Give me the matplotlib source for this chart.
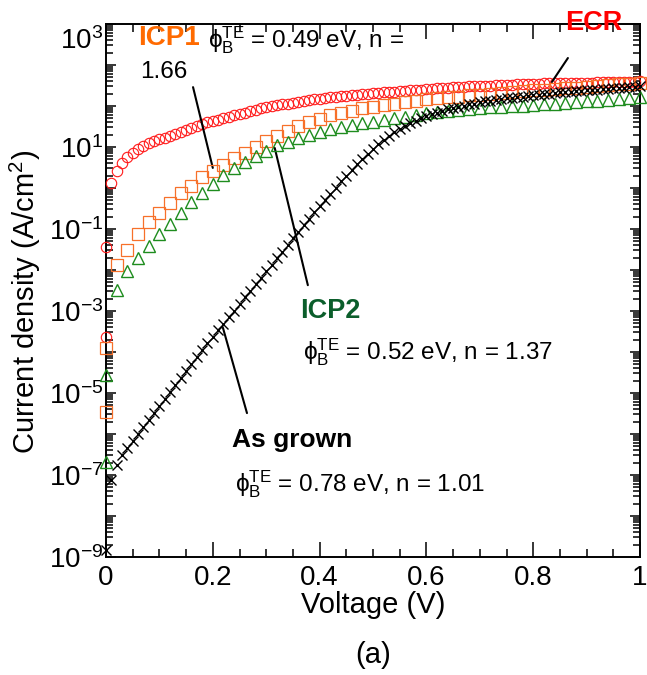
import numpy as np
import matplotlib
matplotlib.use('Agg')
import matplotlib.pyplot as plt
from matplotlib.ticker import FixedLocator, FuncFormatter, LogLocator, NullFormatter, MultipleLocator

plt.rcParams['font.family'] = ['Liberation Sans', 'DejaVu Sans']
plt.rcParams['mathtext.fontset'] = 'custom'
plt.rcParams['mathtext.rm'] = 'Liberation Sans'
plt.rcParams['mathtext.it'] = 'Liberation Sans:italic'
plt.rcParams['mathtext.bf'] = 'Liberation Sans:bold'

# log10 of current density (A/cm2)
# ECR and As grown: 0 .. 1 V every 0.01 V ; ICP1 and ICP2: every 0.02 V
v_fine = np.linspace(0, 1, 101)
v_coarse = np.linspace(0, 1, 51)

logj_ecr = [-1.44, 0.12, 0.42, 0.62, 0.75, 0.85, 0.95, 1.03, 1.09, 1.14,
            1.19, 1.23, 1.27, 1.32, 1.37, 1.42, 1.47, 1.51, 1.56, 1.60,
            1.63, 1.67, 1.71, 1.74, 1.78, 1.81, 1.84, 1.88, 1.91, 1.94,
            1.97, 2.00, 2.02, 2.04, 2.06, 2.08, 2.10, 2.12, 2.14, 2.16,
            2.18, 2.19, 2.21, 2.22, 2.24, 2.25, 2.26, 2.28, 2.29, 2.30,
            2.31, 2.32, 2.33, 2.34, 2.35, 2.36, 2.37, 2.38, 2.39, 2.40,
            2.41, 2.42, 2.43, 2.44, 2.45, 2.46, 2.47, 2.47, 2.48, 2.49,
            2.49, 2.50, 2.50, 2.51, 2.51, 2.52, 2.52, 2.53, 2.53, 2.54,
            2.54, 2.54, 2.55, 2.55, 2.55, 2.56, 2.56, 2.56, 2.57, 2.57,
            2.57, 2.57, 2.58, 2.58, 2.58, 2.58, 2.59, 2.59, 2.59, 2.59,
            2.60]

logj_icp1 = [-3.90, -1.88, -1.50, -1.12, -0.84, -0.60, -0.36, -0.12, 0.06, 0.26,
             0.42, 0.57, 0.72, 0.86, 1.00, 1.14, 1.28, 1.40, 1.52, 1.61,
             1.69, 1.77, 1.83, 1.89, 1.94, 1.98, 2.02, 2.06, 2.10, 2.13,
             2.16, 2.19, 2.21, 2.23, 2.26, 2.28, 2.30, 2.32, 2.34, 2.36,
             2.38, 2.40, 2.42, 2.44, 2.45, 2.47, 2.49, 2.51, 2.53, 2.54,
             2.56]

logj_icp2 = [-4.56, -2.49, -2.02, -1.71, -1.41, -1.12, -0.87, -0.60, -0.35, -0.13,
             0.10, 0.31, 0.48, 0.63, 0.77, 0.91, 1.04, 1.13, 1.21, 1.29,
             1.37, 1.44, 1.50, 1.54, 1.58, 1.62, 1.67, 1.70, 1.74, 1.78,
             1.82, 1.85, 1.88, 1.91, 1.93, 1.95, 1.97, 1.98, 2.00, 2.01,
             2.03, 2.05, 2.06, 2.08, 2.09, 2.11, 2.13, 2.15, 2.17, 2.19,
             2.22]

logj_grown = [-8.83, -7.12, -6.75, -6.52, -6.34, -6.17, -6.00, -5.83, -5.66, -5.49,
              -5.32, -5.15, -4.98, -4.81, -4.64, -4.47, -4.30, -4.13, -3.96, -3.79,
              -3.63, -3.47, -3.31, -3.15, -2.99, -2.83, -2.67, -2.51, -2.35, -2.19,
              -2.03, -1.87, -1.71, -1.55, -1.39, -1.23, -1.07, -0.91, -0.75, -0.59,
              -0.44, -0.29, -0.14, 0.01, 0.16, 0.30, 0.44, 0.58, 0.71, 0.84,
              0.96, 1.07, 1.17, 1.27, 1.36, 1.44, 1.51, 1.58, 1.64, 1.70,
              1.75, 1.80, 1.84, 1.88, 1.92, 1.95, 1.98, 2.01, 2.04, 2.06,
              2.09, 2.11, 2.13, 2.15, 2.17, 2.19, 2.20, 2.22, 2.23, 2.25,
              2.26, 2.28, 2.29, 2.30, 2.32, 2.33, 2.34, 2.35, 2.36, 2.37,
              2.38, 2.39, 2.40, 2.41, 2.42, 2.43, 2.44, 2.45, 2.46, 2.47,
              2.48]

# extra zero-bias readings (noise floor points at 0 V)
zero_ecr = [-3.63]
zero_icp1 = [-5.47]
zero_icp2 = [-6.68]

red = '#FF1A1A'
orange = '#F7702A'
green = '#1E8C1E'

fig = plt.figure(figsize=(6.47, 6.75), dpi=100)
ax = fig.add_axes([106/647, 118/675, 534/647, 533/675])

ax.plot(v_fine, 10**np.array(logj_ecr), ls='none', marker='o', ms=7.5, mfc='none',
        mec=red, mew=0.8, clip_on=False, zorder=3)
ax.plot([0]*len(zero_ecr), 10**np.array(zero_ecr), ls='none', marker='o', ms=7.5,
        mfc='none', mec=red, mew=0.8, clip_on=False, zorder=3)
ax.plot(v_coarse, 10**np.array(logj_icp1), ls='none', marker='s', ms=8, mfc='none',
        mec=orange, mew=0.9, clip_on=False, zorder=4)
ax.plot([0]*len(zero_icp1), 10**np.array(zero_icp1), ls='none', marker='s', ms=8,
        mfc='none', mec=orange, mew=0.9, clip_on=False, zorder=4)
ax.plot(v_coarse, 10**np.array(logj_icp2), ls='none', marker='^', ms=8, mfc='none',
        mec=green, mew=1.0, clip_on=False, zorder=5)
ax.plot([0]*len(zero_icp2), 10**np.array(zero_icp2), ls='none', marker='^', ms=8,
        mfc='none', mec=green, mew=1.0, clip_on=False, zorder=5)
ax.plot(v_fine, 10**np.array(logj_grown), ls='none', marker='x', ms=7.5,
        mec='black', mew=1.0, clip_on=False, zorder=6)

ax.set_xlim(0, 1)
ax.set_yscale('log')
ax.set_ylim(1e-9, 1e4)

ax.xaxis.set_major_locator(MultipleLocator(0.2))
ax.xaxis.set_minor_locator(MultipleLocator(0.05))
ax.xaxis.set_major_formatter(FuncFormatter(lambda x, p: '%g' % round(x, 2)))

ax.yaxis.set_major_locator(FixedLocator([10.0**k for k in range(-9, 5)]))
ax.yaxis.set_minor_locator(LogLocator(base=10, subs=np.arange(2, 10), numticks=100))
ax.yaxis.set_minor_formatter(NullFormatter())


def ylab(y, p):
    k = int(round(np.log10(y)))
    if k % 2 != 0 and k <= 1:
        return '$10^{%d}$' % k
    return ''


ax.yaxis.set_major_formatter(FuncFormatter(ylab))

for s in ax.spines.values():
    s.set_linewidth(1.4)
ax.tick_params(which='both', direction='in', top=True, right=True, width=1.1,
               labelsize=20, colors='black')
ax.tick_params(axis='x', which='major', length=11, pad=6)
ax.tick_params(axis='x', which='minor', length=6)
ax.tick_params(axis='y', which='major', length=7.5, pad=2)
ax.tick_params(axis='y', which='minor', length=5)

# top label sits above its tick in the original
fig.text(103/647, 1 - 38/675, '$10^{3}$', fontsize=20, ha='right', va='center_baseline')

fig.text(25/647, 1 - 302/675, 'Current density (A/cm$^2$)', fontsize=21,
         rotation=90, ha='center', va='center')
fig.text(373/647, 1 - 605/675, 'Voltage (V)', fontsize=21, ha='center', va='center')
fig.text(373/647, 1 - 655/675, '(a)', fontsize=21, ha='center', va='center')

phi = '\u03d5$_{\\mathrm{B}}^{\\mathrm{TE}}$'

ax.text(0.060, 10**3.49, 'ICP1', color='#FF6A00', fontsize=20, fontweight='bold')
ax.text(0.191, 10**3.42, phi + ' = 0.49 eV, n =', fontsize=17.5)
ax.text(0.064, 10**2.68, '1.66', fontsize=17.5)
ax.text(0.860, 10**3.85, 'ECR', color='#FF0000', fontsize=19.5, fontweight='bold',
        clip_on=False)
ax.text(0.363, 10**-3.17, 'ICP2', color='#0B5E2B', fontsize=19.5, fontweight='bold')
ax.text(0.369, 10**-4.18, phi + ' = 0.52 eV, n = 1.37', fontsize=17.5)
ax.text(0.236, 10**-6.32, 'As grown', fontsize=19, fontweight='bold')
ax.text(0.242, 10**-7.39, phi + ' = 0.78 eV, n = 1.01', fontsize=17.5)

line = dict(arrowstyle='-', color='black', lw=1.5, shrinkA=0, shrinkB=0)
ax.annotate('', xy=(0.200, 10**0.49), xytext=(0.163, 10**2.46), arrowprops=line)
ax.annotate('', xy=(0.835, 10**2.585), xytext=(0.865, 10**3.17), arrowprops=line,
            annotation_clip=False)
ax.annotate('', xy=(0.316, 10**0.976), xytext=(0.378, 10**-2.37), arrowprops=line)
ax.annotate('', xy=(0.219, 10**-3.41), xytext=(0.264, 10**-5.49), arrowprops=line)

fig.savefig('out.png', dpi=100)
